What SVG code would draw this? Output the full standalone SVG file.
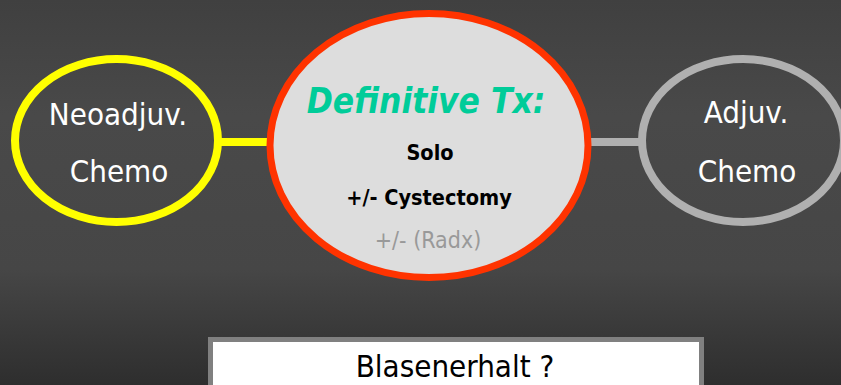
<svg xmlns="http://www.w3.org/2000/svg" width="841" height="385" viewBox="0 0 841 385">
<defs>
<linearGradient id="bg" x1="0" y1="0" x2="0" y2="1">
<stop offset="0" stop-color="#404040"/>
<stop offset="0.3" stop-color="#494949"/>
<stop offset="0.7" stop-color="#464646"/>
<stop offset="1" stop-color="#2e2e2e"/>
</linearGradient>
</defs>
<style>
text{font-family:"DejaVu Sans Condensed","DejaVu Sans","Liberation Sans",sans-serif;font-stretch:condensed;text-anchor:middle}
.side{fill:#ffffff;font-size:31px}
.bold{fill:#000000;font-size:21.5px;font-weight:bold}
</style>
<rect width="841" height="385" fill="url(#bg)"/>
<g id="connectors">
<line x1="220" y1="142" x2="272" y2="142" stroke="#ffff00" stroke-width="8"/>
<line x1="588" y1="142" x2="640" y2="142" stroke="#b0b0b0" stroke-width="8"/>
</g>
<g id="neoadjuv">
<ellipse cx="116.5" cy="140.5" rx="101.5" ry="81.5" fill="none" stroke="#ffff00" stroke-width="8"/>
<text class="side" x="118" y="125">Neoadjuv.</text>
<text class="side" x="119" y="182">Chemo</text>
</g>
<g id="definitive">
<ellipse cx="429" cy="145.5" rx="159" ry="132" fill="#dddddd" stroke="#ff3300" stroke-width="7"/>
<text x="426" y="113" fill="#00cc99" font-size="35" font-weight="bold" font-style="italic">Definitive Tx:</text>
<text class="bold" x="430" y="160">Solo</text>
<text class="bold" x="429" y="205">+/- Cystectomy</text>
<text x="428" y="248" fill="#999999" font-size="23">+/- (Radx)</text>
</g>
<g id="adjuv">
<ellipse cx="743" cy="140.5" rx="101" ry="81.5" fill="none" stroke="#b0b0b0" stroke-width="8"/>
<text class="side" x="746" y="123">Adjuv.</text>
<text class="side" x="747" y="182">Chemo</text>
</g>
<g id="blasenerhalt">
<rect x="210.5" y="339.5" width="491" height="60" fill="#ffffff" stroke="#808080" stroke-width="5"/>
<text x="455" y="377" fill="#000000" font-size="31">Blasenerhalt ?</text>
</g>
</svg>
